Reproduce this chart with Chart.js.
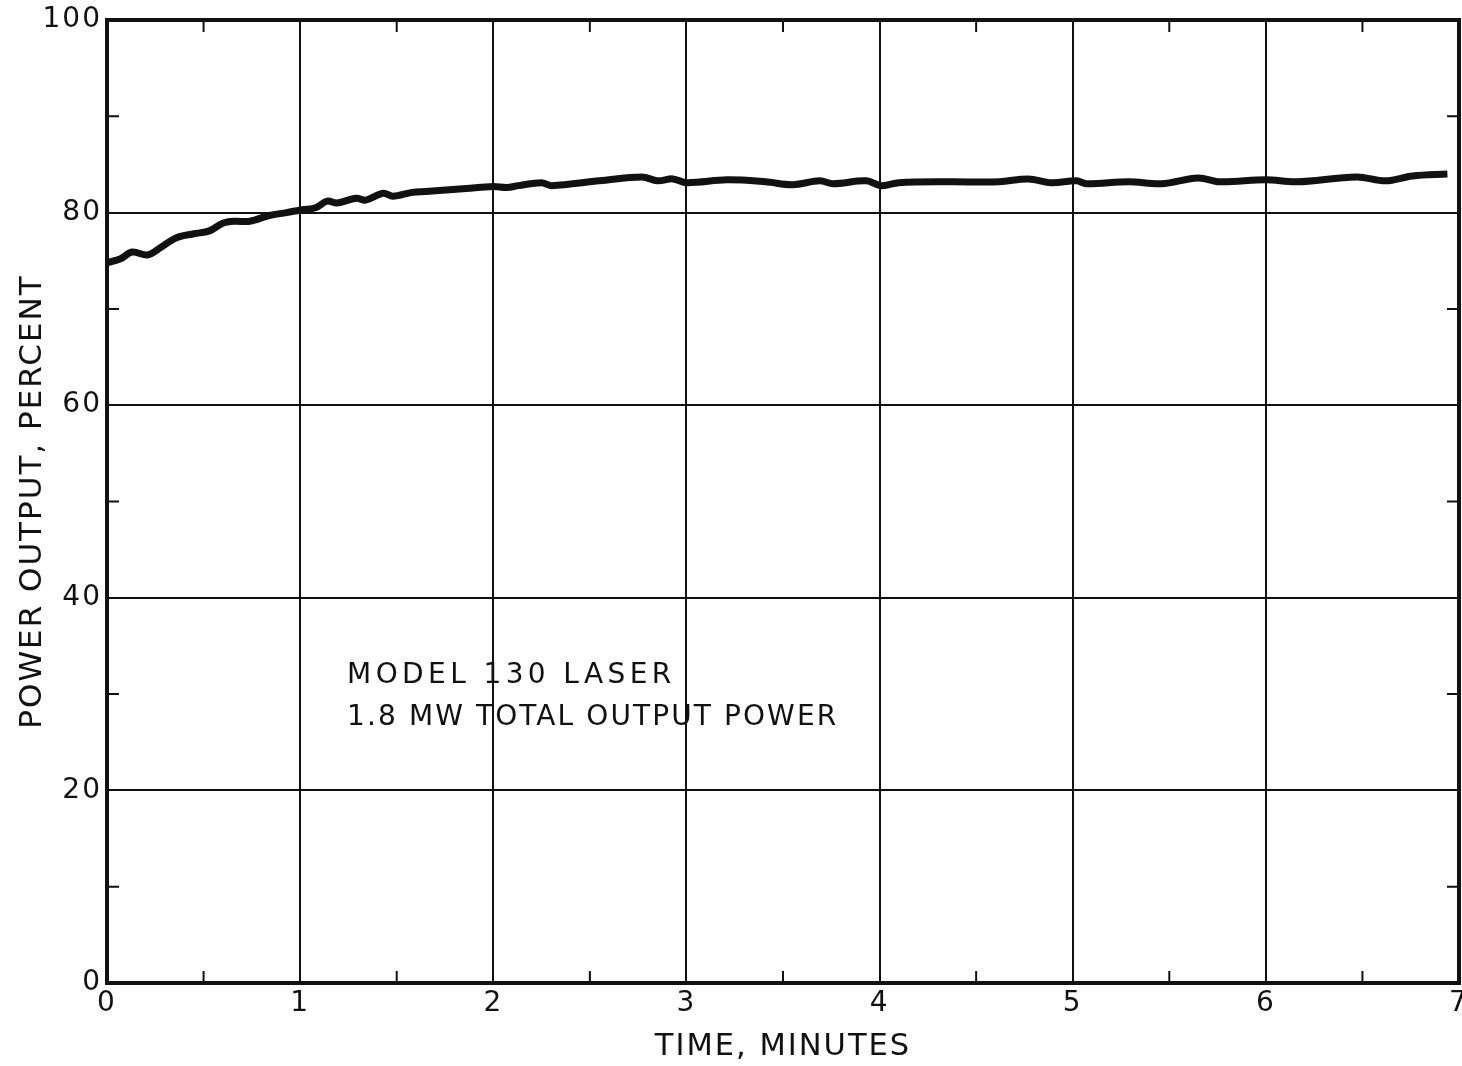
<!DOCTYPE html>
<html><head><meta charset="utf-8">
<script src="https://cdn.jsdelivr.net/npm/chart.js@4/dist/chart.umd.min.js"></script>
<style>html,body{margin:0;padding:0;background:#fff;}canvas{display:block;}</style>
</head><body>
<canvas id="c" width="1462" height="1066"></canvas>
<script>
const timeMinutes = [0.00,0.07,0.13,0.21,0.28,0.36,0.45,0.53,0.60,0.66,0.74,0.84,0.93,1.01,1.08,1.14,1.19,1.29,1.34,1.43,1.48,1.58,1.65,1.86,2.00,2.07,2.13,2.25,2.30,2.55,2.77,2.85,2.93,3.00,3.21,3.41,3.55,3.69,3.76,3.93,4.01,4.10,4.36,4.62,4.77,4.89,5.02,5.07,5.29,5.46,5.65,5.76,6.00,6.16,6.47,6.62,6.76,6.94];
const powerPercent = [74.8,75.2,75.9,75.6,76.4,77.4,77.8,78.1,78.9,79.1,79.1,79.7,80.0,80.3,80.5,81.2,81.0,81.5,81.3,82.0,81.7,82.1,82.2,82.5,82.7,82.6,82.8,83.1,82.8,83.3,83.7,83.3,83.5,83.1,83.4,83.2,82.9,83.3,83.0,83.3,82.8,83.1,83.2,83.2,83.5,83.1,83.3,83.0,83.2,83.0,83.6,83.2,83.4,83.2,83.7,83.3,83.8,84.0];
const xTickValues = [0,1,2,3,4,5,6,7];
const yTickValues = [0,20,40,60,80,100];
const xMinorTicks = [0.5,1.5,2.5,3.5,4.5,5.5,6.5];
const yMinorTicks = [10,30,50,70,90];
const xTitle = 'TIME, MINUTES';
const yTitle = 'POWER OUTPUT, PERCENT';
const noteLines = ['MODEL 130 LASER', '1.8 MW TOTAL OUTPUT POWER'];
const noteAnchorX = 1.243;
const noteAnchorY = [31.2, 26.8];

const INK = '#111';
const FONT = "'DejaVu Sans', sans-serif";

const framePlugin = {
  id: 'frame',
  beforeDraw(chart) { chart.ctx.letterSpacing = '2px'; },
  beforeDatasetsDraw(chart) {
    const {ctx, chartArea: a, scales: {x, y}} = chart;
    ctx.save();
    ctx.strokeStyle = INK;
    ctx.lineWidth = 2;
    const L = 12;
    ctx.beginPath();
    xMinorTicks.forEach(v => {
      const px = x.getPixelForValue(v);
      ctx.moveTo(px, a.bottom); ctx.lineTo(px, a.bottom - L);
      ctx.moveTo(px, a.top); ctx.lineTo(px, a.top + L);
    });
    yMinorTicks.forEach(v => {
      const py = y.getPixelForValue(v);
      ctx.moveTo(a.left, py); ctx.lineTo(a.left + L, py);
      ctx.moveTo(a.right, py); ctx.lineTo(a.right - L, py);
    });
    ctx.stroke();
    ctx.lineWidth = 4;
    ctx.strokeRect(a.left, a.top, a.right - a.left, a.bottom - a.top);
    ctx.restore();
  },
  afterDraw(chart) {
    const {ctx, scales: {x, y}} = chart;
    ctx.save();
    ctx.fillStyle = INK;
    ctx.font = "28px " + FONT;
    ctx.textBaseline = 'alphabetic';
    ctx.textAlign = 'left';
    const spacing = ['4.4px', '2.1px'];
    noteLines.forEach((t, i) => {
      ctx.letterSpacing = spacing[i];
      ctx.fillText(t, x.getPixelForValue(noteAnchorX), y.getPixelForValue(noteAnchorY[i]));
    });
    ctx.restore();
    ctx.letterSpacing = '0px';
  }
};

new Chart(document.getElementById('c'), {
  type: 'line',
  data: {
    datasets: [{
      data: timeMinutes.map((t, i) => ({x: t, y: powerPercent[i]})),
      borderColor: INK,
      borderWidth: 7,
      pointRadius: 0,
      tension: 0.35,
      fill: false
    }]
  },
  options: {
    responsive: false,
    animation: false,
    devicePixelRatio: 1,
    layout: {padding: {top: 20, right: 3, left: 0, bottom: 0}},
    plugins: {legend: {display: false}, tooltip: {enabled: false}},
    scales: {
      x: {
        type: 'linear', min: 0, max: 7,
        afterBuildTicks(s) { s.ticks = xTickValues.map(v => ({value: v})); },
        afterFit(s) { s.height = 83; s.paddingLeft = 0; s.paddingRight = 0; },
        ticks: {color: INK, font: {family: FONT, size: 28}, padding: 4, maxRotation: 0},
        grid: {color: INK, lineWidth: 2, drawTicks: false},
        border: {color: INK, width: 4},
        title: {display: true, text: xTitle, color: INK, font: {family: FONT, size: 30.5}, padding: {top: 0, bottom: 1}}
      },
      y: {
        type: 'linear', min: 0, max: 100,
        afterBuildTicks(s) { s.ticks = yTickValues.map(v => ({value: v})); },
        afterFit(s) { s.width = 107; s.paddingTop = 0; s.paddingBottom = 0; },
        ticks: {color: INK, font: {family: FONT, size: 28}, padding: 5},
        grid: {color: INK, lineWidth: 2, drawTicks: false},
        border: {color: INK, width: 4},
        title: {display: true, text: yTitle, color: INK, font: {family: FONT, size: 31}, padding: {top: 14, bottom: 0}}
      }
    }
  },
  plugins: [framePlugin]
});
</script>
</body></html>
